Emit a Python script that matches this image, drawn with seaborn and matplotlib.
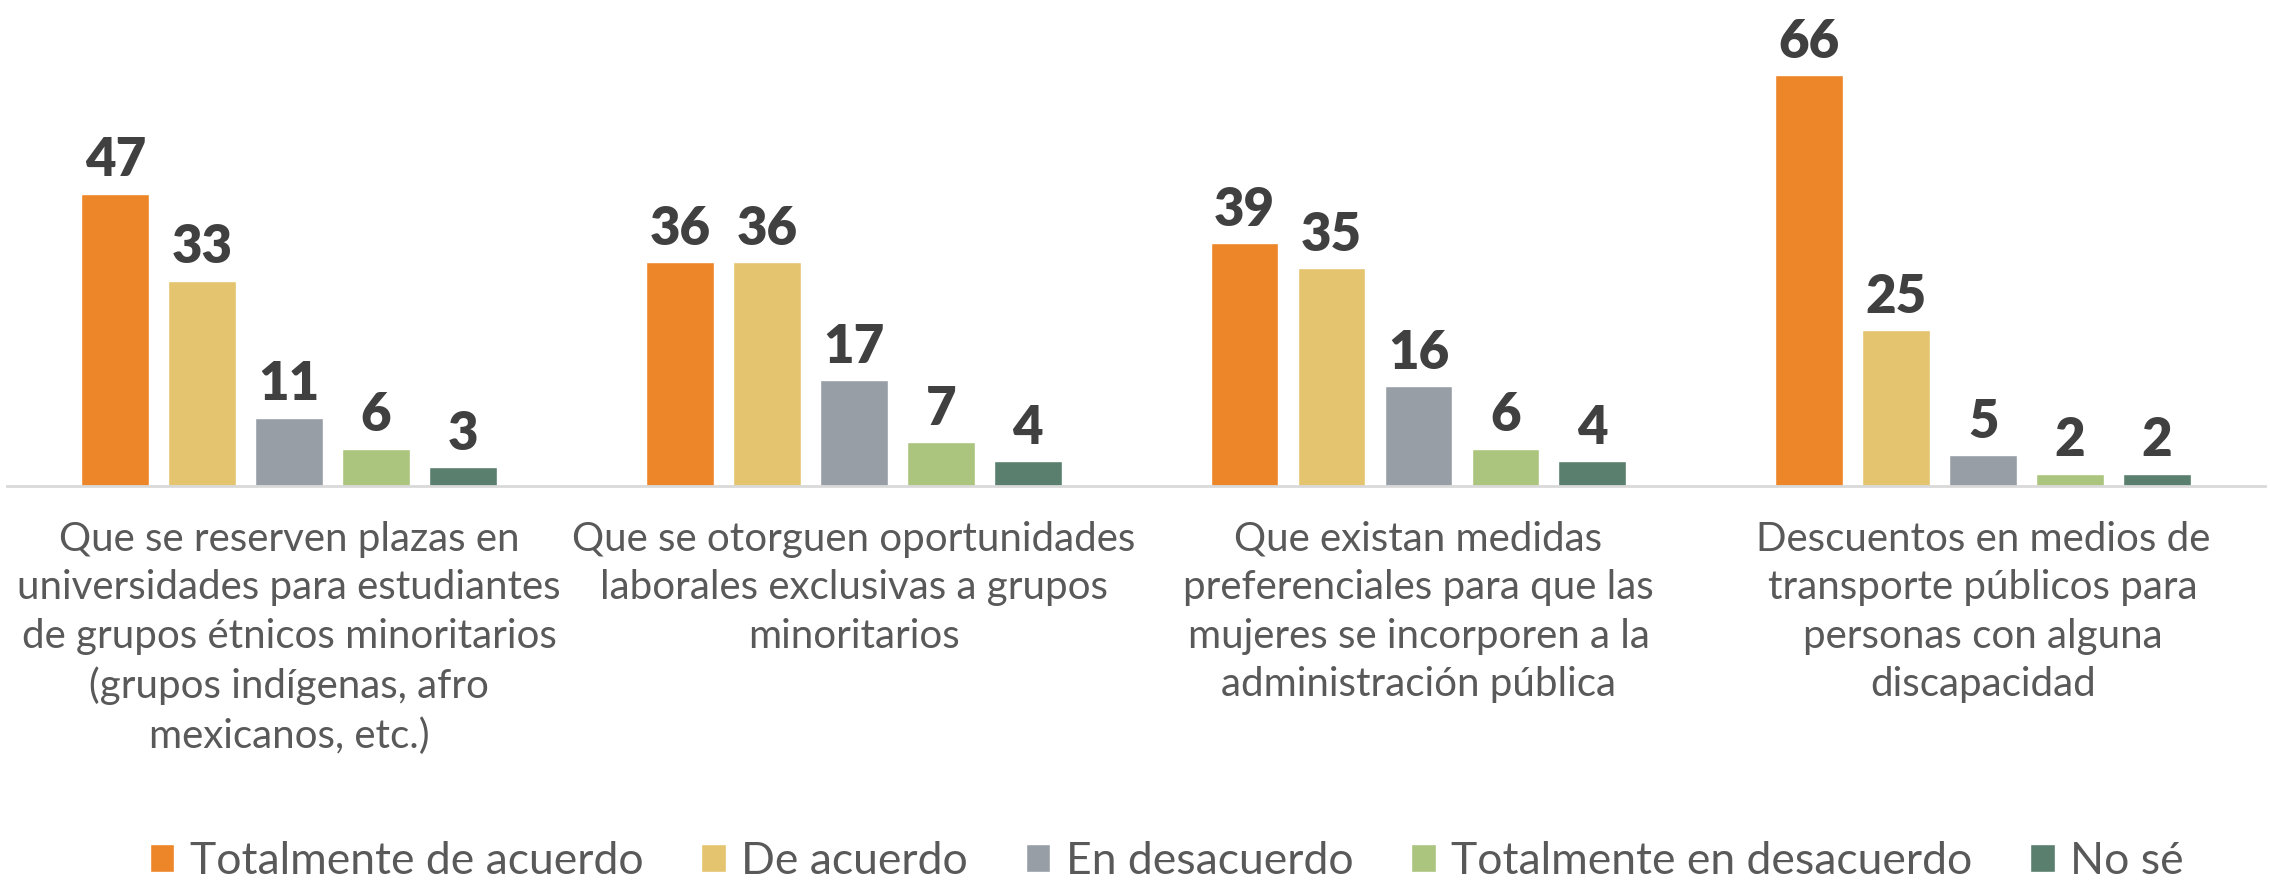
import matplotlib
matplotlib.use("Agg")
import matplotlib.pyplot as plt
import seaborn as sns
import pandas as pd

categories = [
    "Que se reserven plazas en\nuniversidades para estudiantes\nde grupos étnicos minoritarios\n(grupos indígenas, afro\nmexicanos, etc.)",
    "Que se otorguen oportunidades\nlaborales exclusivas a grupos\nminoritarios",
    "Que existan medidas\npreferenciales para que las\nmujeres se incorporen a la\nadministración pública",
    "Descuentos en medios de\ntransporte públicos para\npersonas con alguna\ndiscapacidad",
]
responses = ["Totalmente de acuerdo", "De acuerdo", "En desacuerdo",
             "Totalmente en desacuerdo", "No sé"]
totalmente_de_acuerdo = [47, 36, 39, 66]
de_acuerdo = [33, 36, 35, 25]
en_desacuerdo = [11, 17, 16, 5]
totalmente_en_desacuerdo = [6, 7, 6, 2]
no_se = [3, 4, 4, 2]
colors = ["#ED8529", "#E5C46F", "#979EA6", "#ABC47E", "#5A7F6E"]

series = [totalmente_de_acuerdo, de_acuerdo, en_desacuerdo,
          totalmente_en_desacuerdo, no_se]
rows = []
for resp, vals in zip(responses, series):
    for cat, v in zip(categories, vals):
        rows.append({"cat": cat, "resp": resp, "val": v})
df = pd.DataFrame(rows)

sns.set_theme(style="white")
plt.rcParams["font.family"] = ["Lato", "DejaVu Sans"]

fig = plt.figure(figsize=(22.7, 8.8), dpi=100)
ax = fig.add_axes([0.003, 0.4477, 0.995, 0.5523])

sns.barplot(data=df, x="cat", y="val", hue="resp", order=categories,
            hue_order=responses, palette=colors, width=0.77, gap=0.22,
            saturation=1, ax=ax, legend=True)

for cont in ax.containers:
    ax.bar_label(cont, fmt="%d", padding=6, fontsize=38, fontweight="heavy",
                 color="#404040")

ax.set_ylim(0, 78.1)
ax.set_xlim(-0.5, 3.5)
ax.set_xlabel("")
ax.set_ylabel("")
ax.set_yticks([])
for s in ["top", "right", "left"]:
    ax.spines[s].set_visible(False)
ax.spines["bottom"].set_color("#D9D9D9")
ax.spines["bottom"].set_linewidth(2)
ax.tick_params(axis="x", length=0, pad=25, labelsize=29, labelcolor="#595959")
for t in ax.get_xticklabels():
    t.set_linespacing(1.38)

handles, labels = ax.get_legend_handles_labels()
ax.get_legend().remove()
fig.legend(handles, labels, loc="center", bbox_to_anchor=(0.514, 1 - 861 / 880),
           ncol=5, frameon=False, fontsize=32, labelcolor="#595959",
           handlelength=0.55, handleheight=0.6, handletextpad=0.35,
           columnspacing=1.3)

fig.savefig("out.png", dpi=100)
